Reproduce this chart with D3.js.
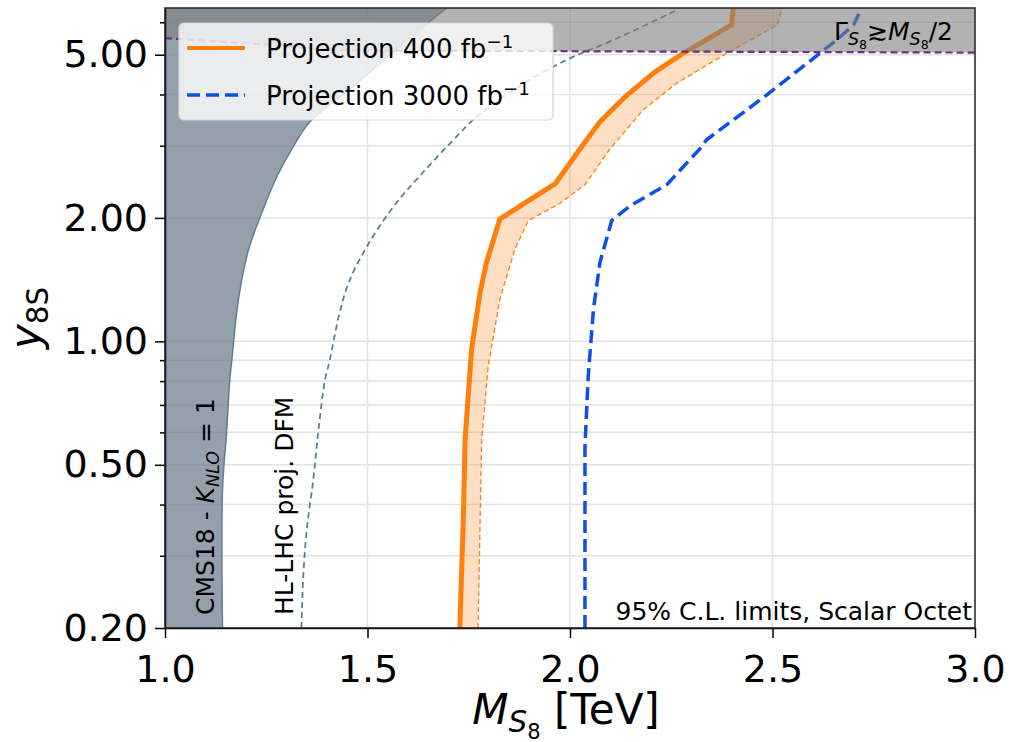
<!DOCTYPE html>
<html lang="en">
<head>
<meta charset="UTF-8">
<title>Scalar octet limits</title>
<script src="https://d3js.org/d3.v7.min.js"></script>
<style>
  body { margin: 0; background: #fff; }
  text { font-family: "DejaVu Sans", sans-serif; fill: #000; }
  .grid line { stroke: #e2e2e2; stroke-width: 1.5; }
  .axis path, .axis line { stroke: #000; stroke-width: 1.5; }
</style>
</head>
<body>
<script>
// mass M [TeV] vs coupling y
const cmsM = [1.142, 1.142, 1.152, 1.160, 1.165, 1.181, 1.206, 1.235, 1.276, 1.317, 1.358, 1.44, 1.523, 1.61, 1.696];
const cmsY = [0.2, 0.435, 0.6, 0.808, 0.90, 1.26, 1.67, 2.01, 2.52, 2.99, 3.43, 4.0, 4.68, 5.55, 6.5];

const dfmM = [1.337, 1.341, 1.350, 1.366, 1.379, 1.395, 1.407, 1.429, 1.453, 1.498, 1.564, 1.635, 1.728, 1.761, 1.860, 1.992, 2.107, 2.265];
const dfmY = [0.2, 0.262, 0.347, 0.459, 0.608, 0.805, 0.901, 1.149, 1.386, 1.70, 2.13, 2.57, 3.22, 3.47, 4.10, 4.86, 5.43, 6.43];

const p400M = [1.728, 1.737, 1.741, 1.757, 1.778, 1.794, 1.827, 1.963, 2.025, 2.074, 2.136, 2.210, 2.279, 2.399, 2.403];
const p400Y = [0.2, 0.382, 0.577, 0.957, 1.316, 1.559, 1.99, 2.42, 2.95, 3.43, 3.95, 4.54, 5.04, 5.91, 6.5];

const p400hiM = [1.773, 1.782, 1.798, 1.827, 1.864, 1.897, 1.975, 2.037, 2.099, 2.181, 2.263, 2.387, 2.512, 2.523];
const p400hiY = [0.2, 0.577, 0.871, 1.268, 1.68, 1.97, 2.17, 2.41, 2.95, 3.67, 4.26, 5.04, 5.91, 6.5];

const p3000M = [2.037, 2.037, 2.045, 2.058, 2.074, 2.103, 2.148, 2.239, 2.321, 2.337, 2.486, 2.617, 2.658, 2.70, 2.72];
const p3000Y = [0.2, 0.555, 0.823, 1.20, 1.559, 1.97, 2.14, 2.41, 2.95, 3.10, 3.99, 5.04, 5.43, 5.91, 6.5];

// width bound Gamma >= M/2
const gamM = [1.0, 1.24, 1.48, 1.96, 2.5, 3.0];
const gamY = [5.49, 5.30, 5.12, 5.10, 5.08, 5.06];

const xTicks = [1.0, 1.5, 2.0, 2.5, 3.0];
const yTicks = [0.2, 0.5, 1, 2, 5];
const yMinor = [0.3, 0.4, 0.6, 0.7, 0.8, 0.9, 3, 4, 6];

const W = 1011, H = 742;
const L = 165, R = 975, T = 8, B = 628;

const x = d3.scaleLinear().domain([1, 3]).range([L, R]);
const y = d3.scaleLog().domain([0.2, 6.5]).range([B, T]);

const svg = d3.select("body").append("svg")
  .attr("width", W).attr("height", H);

svg.append("clipPath").attr("id", "clip")
  .append("rect").attr("x", L).attr("y", T).attr("width", R - L).attr("height", B - T);

const zip = (a, b) => a.map((v, i) => [v, b[i]]);
const line = d3.line().x(d => x(d[0])).y(d => y(d[1]));
const smooth = d3.line().x(d => x(d[0])).y(d => y(d[1])).curve(d3.curveCatmullRom.alpha(0.5));

// grid
const grid = svg.append("g").attr("class", "grid");
grid.selectAll(".gy").data(yTicks.concat(yMinor)).enter().append("line")
  .attr("x1", L).attr("x2", R).attr("y1", d => y(d)).attr("y2", d => y(d));
grid.selectAll(".gx").data([1.5, 2.0, 2.5]).enter().append("line")
  .attr("y1", T).attr("y2", B).attr("x1", d => x(d)).attr("x2", d => x(d));

const plot = svg.append("g").attr("clip-path", "url(#clip)");

// CMS18 excluded region
const cms = zip(cmsM, cmsY);
plot.append("path")
  .attr("d", d3.area().x0(x(1)).x1(d => x(d[0])).y(d => y(d[1]))
    .curve(d3.curveCatmullRom.alpha(0.5))(cms))
  .attr("fill", "#708090").attr("fill-opacity", 0.75);
plot.append("path").attr("d", smooth(cms))
  .attr("fill", "none").attr("stroke", "#5f7f91").attr("stroke-width", 1.5);

// HL-LHC DFM projection
plot.append("path").attr("d", smooth(zip(dfmM, dfmY)))
  .attr("fill", "none").attr("stroke", "#5f7f91").attr("stroke-width", 1.8)
  .attr("stroke-dasharray", "6,4");

// 400 fb-1 band
const lo = zip(p400M, p400Y), hi = zip(p400hiM, p400hiY);
plot.append("path")
  .attr("d", line(lo) + line(hi.slice().reverse()).replace(/^M/, "L") + "Z")
  .attr("fill", "#ff7f0e").attr("fill-opacity", 0.25);
plot.append("path").attr("d", line(hi))
  .attr("fill", "none").attr("stroke", "#ff7f0e").attr("stroke-width", 1.3)
  .attr("stroke-dasharray", "5,3");
plot.append("path").attr("d", line(lo))
  .attr("fill", "none").attr("stroke", "#ff7f0e").attr("stroke-width", 5)
  .attr("stroke-linejoin", "round");

// 3000 fb-1
plot.append("path").attr("d", line(zip(p3000M, p3000Y)))
  .attr("fill", "none").attr("stroke", "#0e4fe6").attr("stroke-width", 3.5)
  .attr("stroke-dasharray", "13,6");

// width region
const gam = zip(gamM, gamY);
const gline = d3.line().x(d => x(d[0])).y(d => y(d[1])).curve(d3.curveMonotoneX);
plot.append("path")
  .attr("d", d3.area().x(d => x(d[0])).y0(d => y(d[1])).y1(y(6.5))
    .curve(d3.curveMonotoneX)(gam))
  .attr("fill", "#7f7f7f").attr("fill-opacity", 0.6);
plot.append("path").attr("d", gline(gam))
  .attr("fill", "none").attr("stroke", "#6e3085").attr("stroke-width", 2.2)
  .attr("stroke-dasharray", "7,4");

// small math-like text helper
function mtext(t, parts, size) {
  let cur = 0;
  parts.forEach(p => {
    const lvl = p.s || 0;
    const off = lvl === -1 ? -0.38 * size : [0, 0.2, 0.36][lvl] * size;
    const fs = (lvl === -1 ? 0.7 : [1, 0.7, 0.5][lvl]) * size;
    t.append("tspan").attr("dy", off - cur).attr("font-size", fs)
      .attr("font-style", p.i ? "italic" : "normal").text(p.t);
    cur = off;
  });
}

// annotations
mtext(svg.append("text").attr("x", 953).attr("y", 40).attr("text-anchor", "end"), [
  { t: "Γ" }, { t: "S", i: 1, s: 1 }, { t: "8", s: 2 }, { t: "≳" }, { t: "M", i: 1 },
  { t: "S", i: 1, s: 1 }, { t: "8", s: 2 }, { t: "/2" }], 25);

svg.append("text").attr("x", 972).attr("y", 620).attr("text-anchor", "end")
  .attr("font-size", 25).text("95% C.L. limits, Scalar Octet");

mtext(svg.append("text").attr("transform", "translate(214,615) rotate(-90)"), [
  { t: "CMS18 - " }, { t: "K", i: 1 }, { t: "NLO", i: 1, s: 1 }, { t: " = 1" }], 25);

svg.append("text").attr("transform", "translate(293,615) rotate(-90)")
  .attr("font-size", 25).text("HL-LHC proj. DFM");

// axes
svg.append("g").attr("class", "axis").attr("transform", `translate(0,${B})`)
  .call(d3.axisBottom(x).tickValues(xTicks).tickFormat(d3.format(".1f"))
    .tickSize(10).tickPadding(17).tickSizeOuter(0))
  .call(g => g.selectAll("text").attr("font-size", 38).attr("font-family", "DejaVu Sans"));

svg.append("g").attr("class", "axis").attr("transform", `translate(${L},0)`)
  .call(d3.axisLeft(y).tickValues(yTicks).tickFormat(d3.format(".2f"))
    .tickSize(10).tickPadding(7).tickSizeOuter(0))
  .call(g => g.selectAll("text").attr("font-size", 38).attr("font-family", "DejaVu Sans"));

svg.append("g").attr("class", "axis").attr("transform", `translate(${L},0)`)
  .call(d3.axisLeft(y).tickValues(yMinor).tickFormat("").tickSize(5).tickSizeOuter(0))
  .call(g => g.select(".domain").remove());

// frame
svg.append("rect").attr("x", L).attr("y", T).attr("width", R - L).attr("height", B - T)
  .attr("fill", "none").attr("stroke", "#222").attr("stroke-width", 1.5);

// axis labels
mtext(svg.append("text").attr("x", 566).attr("y", 724).attr("text-anchor", "middle"), [
  { t: "M", i: 1 }, { t: "S", i: 1, s: 1 }, { t: "8", s: 2 }, { t: " [TeV]" }], 42);

mtext(svg.append("text").attr("transform", "translate(40,318) rotate(-90)").attr("text-anchor", "middle"), [
  { t: "y", i: 1 }, { t: "8S", s: 1 }], 42);

// legend
const lg = svg.append("g");
lg.append("rect").attr("x", 179).attr("y", 23).attr("width", 374).attr("height", 97)
  .attr("rx", 5).attr("fill", "#fff").attr("fill-opacity", 0.8)
  .attr("stroke", "#d6d6d6").attr("stroke-width", 1.2);
const legendItems = [
  { label: "Projection 400 fb", color: "#ff7f0e", dash: null, w: 4, yy: 48 },
  { label: "Projection 3000 fb", color: "#0e4fe6", dash: "13,6", w: 3.5, yy: 95 }
];
legendItems.forEach(d => {
  lg.append("line").attr("x1", 187).attr("x2", 245).attr("y1", d.yy).attr("y2", d.yy)
    .attr("stroke", d.color).attr("stroke-width", d.w).attr("stroke-dasharray", d.dash);
  mtext(lg.append("text").attr("x", 266).attr("y", d.yy + 9.5), [
    { t: d.label }, { t: "−1", s: -1 }], 26);
});
</script>
</body>
</html>
